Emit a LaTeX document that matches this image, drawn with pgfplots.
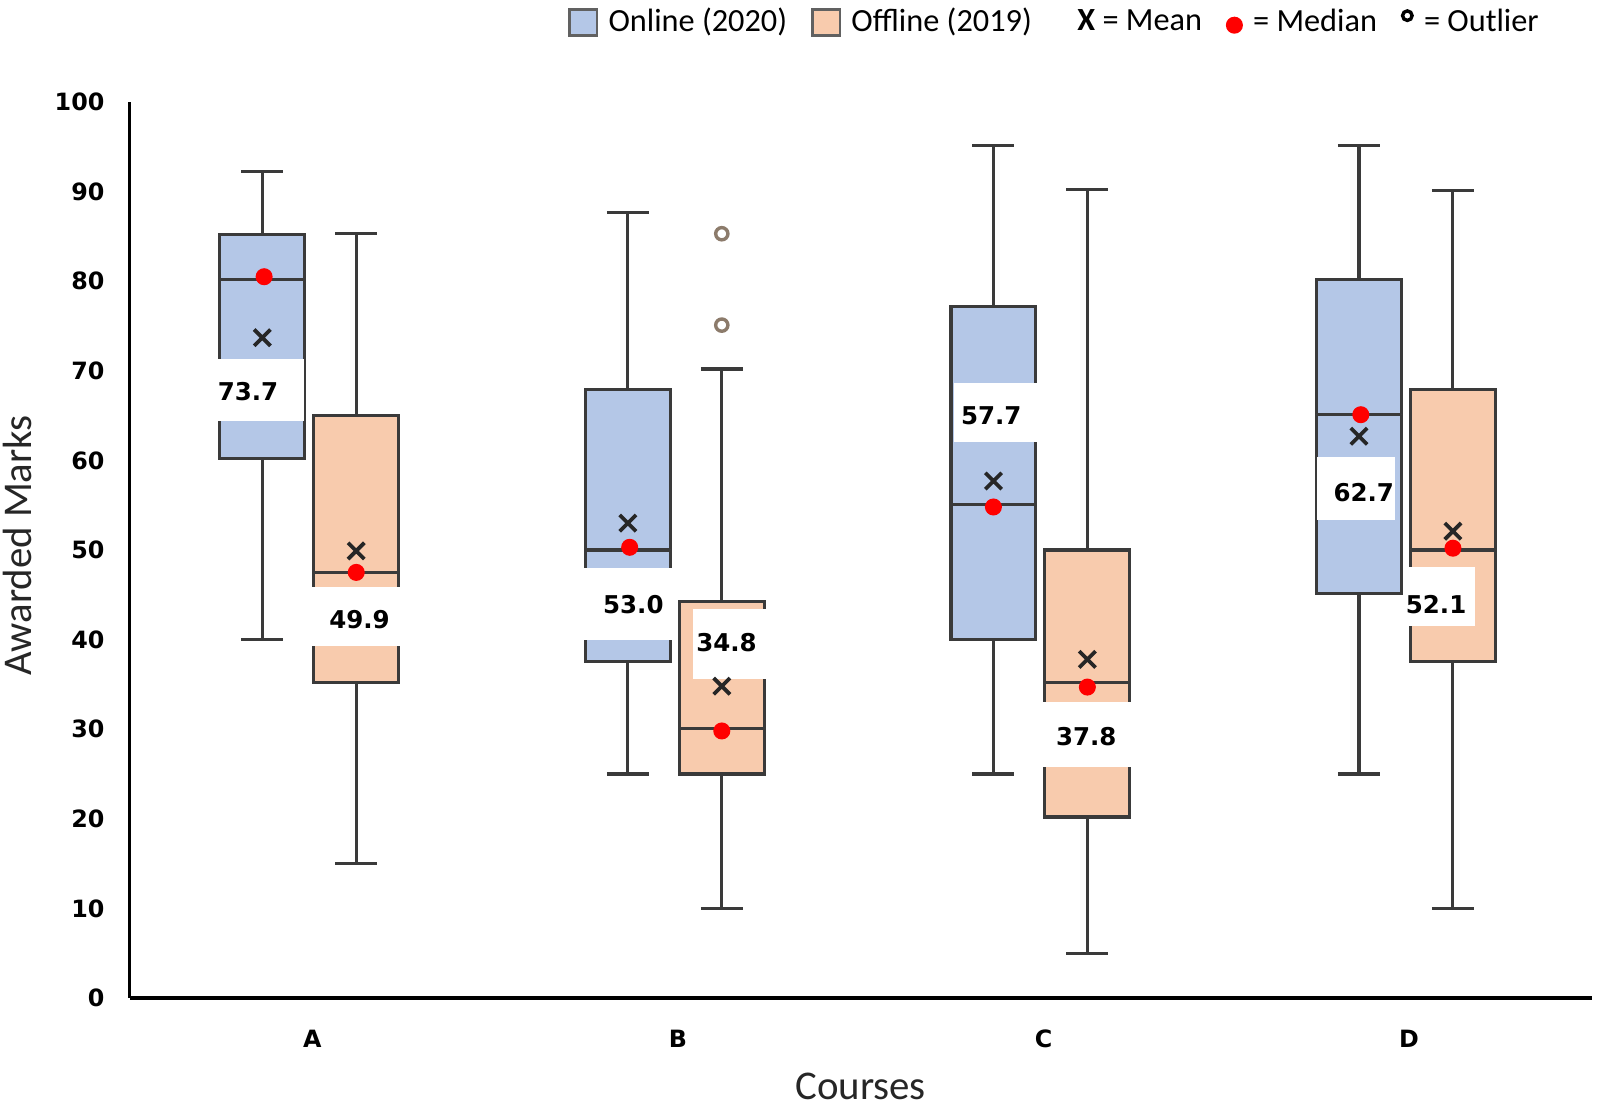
\documentclass[border=0pt]{standalone}
\usepackage{pgfplots}
\pgfplotsset{compat=1.18}
\usepgfplotslibrary{statistics}
\usepackage{fontspec}
\setmainfont{DejaVu Sans}
\newfontfamily\verd{DejaVu Sans}
\newfontfamily\calib{Carlito}
\definecolor{onl}{HTML}{B4C7E7}
\definecolor{off}{HTML}{F8CBAD}
\definecolor{edge}{HTML}{3A3A3A}
\definecolor{outl}{HTML}{8C7B6B}
\definecolor{meanc}{HTML}{262626}
\begin{document}
\begin{tikzpicture}
\begin{axis}[
  scale only axis, width=429.9pt, height=263.4pt,
  xmin=0.5, xmax=4.5, ymin=0, ymax=100,
  axis x line=bottom, axis y line=left,
  axis line style={-, draw=black, line width=1pt},
  xtick={1,2,3,4}, xticklabels={A,B,C,D},
  ytick={0,10,...,100},
  major tick length=0pt,
  /pgf/number format/assume math mode=true,
  tick label style={font=\verd\bfseries\fontsize{7}{8}\selectfont},
  yticklabel style={inner sep=0pt, xshift=-7.2pt},
  xticklabel style={inner sep=0pt, yshift=-9.3pt},
  xlabel={Courses}, ylabel={Awarded Marks},
  label style={font=\calib\fontsize{12}{14}\selectfont, text=black!85, inner sep=0pt},
  xlabel style={at={(axis description cs:0.5,-0.099)}, anchor=center},
  ylabel style={at={(axis description cs:-0.0768,0.505)}, anchor=center, rotate=0},
  legend style={at={(rel axis cs:0.2994,1.0888)}, anchor=west, draw=none, fill=none,
    inner sep=0pt, font=\calib\fontsize{9.5}{11}\selectfont,
    nodes={inner xsep=0pt, inner ysep=1pt},
    /tikz/every odd column/.append style={column sep=3pt},
    /tikz/every even column/.append style={column sep=7pt}},
  legend columns=-1,
  boxplot/draw direction=y,
  boxplot/box extend=0.232,
  boxplot/whisker extend=0.115,
]
% ---- boxes
\addplot[forget plot, draw=edge, fill=onl, line width=0.9pt, boxplot prepared={draw position=0.863, lower whisker=40, lower quartile=60.2, median=80.2, upper quartile=85.2, upper whisker=92.2}] coordinates {};
\addplot[forget plot, draw=edge, fill=off, line width=0.9pt, boxplot prepared={draw position=1.12, lower whisker=15, lower quartile=35.2, median=47.5, upper quartile=65, upper whisker=85.3}] coordinates {};
\addplot[forget plot, draw=edge, fill=onl, line width=0.9pt, boxplot prepared={draw position=1.863, lower whisker=25, lower quartile=37.6, median=50, upper quartile=67.9, upper whisker=87.7}] coordinates {};
\addplot[forget plot, draw=edge, fill=off, line width=0.9pt, mark=*, mark size=1.8pt, mark options={draw=outl, fill=white, line width=1pt}, boxplot prepared={draw position=2.12, lower whisker=10, lower quartile=25, median=30.1, upper quartile=44.2, upper whisker=70.2}] coordinates {(0,85.3) (0,75.1)};
\addplot[forget plot, draw=edge, fill=onl, line width=0.9pt, boxplot prepared={draw position=2.863, lower whisker=25, lower quartile=40, median=55.1, upper quartile=77.2, upper whisker=95.2}] coordinates {};
\addplot[forget plot, draw=edge, fill=off, line width=0.9pt, boxplot prepared={draw position=3.12, lower whisker=5, lower quartile=20.2, median=35.2, upper quartile=50, upper whisker=90.2}] coordinates {};
\addplot[forget plot, draw=edge, fill=onl, line width=0.9pt, boxplot prepared={draw position=3.863, lower whisker=25, lower quartile=45.1, median=65.1, upper quartile=80.2, upper whisker=95.1}] coordinates {};
\addplot[forget plot, draw=edge, fill=off, line width=0.9pt, boxplot prepared={draw position=4.12, lower whisker=10, lower quartile=37.6, median=50, upper quartile=67.9, upper whisker=90.1}] coordinates {};
% ---- white label boxes
\fill[white] (axis cs:0.734,64.35) rectangle (axis cs:0.978,71.3);
\fill[white] (axis cs:0.989,39.3) rectangle (axis cs:1.243,45.9);
\fill[white] (axis cs:1.738,39.98) rectangle (axis cs:1.999,47.95);
\fill[white] (axis cs:2.041,35.65) rectangle (axis cs:2.242,43.39);
\fill[white] (axis cs:2.754,62.07) rectangle (axis cs:2.992,68.68);
\fill[white] (axis cs:2.992,25.74) rectangle (axis cs:3.243,33.03);
\fill[white] (axis cs:3.747,53.3) rectangle (axis cs:3.962,60.36);
\fill[white] (axis cs:3.999,41.57) rectangle (axis cs:4.180,48.06);
% ---- means
\addplot[forget plot, only marks, mark=x, mark size=3.4pt, mark options={draw=meanc, line width=1.1pt}] coordinates {
 (0.863,73.7) (1.12,49.9) (1.863,53.0) (2.12,34.8) (2.863,57.7) (3.12,37.8) (3.863,62.7) (4.12,52.1)};
% ---- medians
\addplot[forget plot, only marks, mark=*, mark size=2.3pt, mark options={draw=red, fill=red}] coordinates {
 (0.868,80.5) (1.12,47.5) (1.868,50.3) (2.12,29.8) (2.863,54.8) (3.12,34.7) (3.868,65.1) (4.12,50.2)};
% ---- labels
\begin{scope}[every node/.style={font=\verd\bfseries\fontsize{7.2}{8}\selectfont, inner sep=0pt, anchor=center}]
\node at (axis cs:0.824,67.65) {73.7};
\node at (axis cs:1.129,42.25) {49.9};
\node at (axis cs:1.878,43.96) {53.0};
\node at (axis cs:2.133,39.64) {34.8};
\node at (axis cs:2.857,65.03) {57.7};
\node at (axis cs:3.117,29.16) {37.8};
\node at (axis cs:3.876,56.38) {62.7};
\node at (axis cs:4.074,43.96) {52.1};
\end{scope}
% ---- legend
\addlegendimage{legend image code/.code={\draw[draw=edge!80, fill=onl, line width=0.8pt] (0pt,-3.75pt) rectangle (8.1pt,3.75pt);}}
\addlegendentry{Online (2020)}
\addlegendimage{legend image code/.code={\draw[draw=edge!80, fill=off, line width=0.8pt] (0pt,-3.75pt) rectangle (8.1pt,3.75pt);}}
\addlegendentry{Offline (2019)}
\addlegendimage{legend image code/.code={\path (0pt,0pt) (3pt,0pt);}}
\addlegendentry{\textbf{X} = Mean}
\addlegendimage{legend image code/.code={\fill[red] (2.3pt,-0.8pt) circle (2.3pt);}}
\addlegendentry{= Median}
\addlegendimage{legend image code/.code={\draw[black, line width=1pt] (1.7pt,2pt) circle (1.4pt);}}
\addlegendentry{= Outlier}
\end{axis}
\path (current axis.south west) ++(-38.1pt,-32.7pt) rectangle ++(470.4pt,326.1pt);
\end{tikzpicture}
\end{document}
